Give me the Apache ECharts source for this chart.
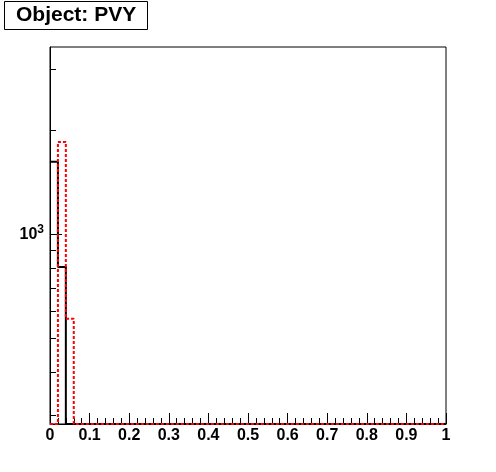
<!DOCTYPE html>
<html>
<head>
<meta charset="utf-8">
<script src="https://cdn.jsdelivr.net/npm/echarts@6/dist/echarts.min.js"></script>
<style>html,body{margin:0;padding:0;background:#fff}#c{width:496px;height:472px}</style>
</head>
<body>
<div id="c"></div>
<script>
const titleText = 'Object: PVY';
const binEdges = [0.00,0.02,0.04,0.06,0.08,0.10,0.12,0.14,0.16,0.18,0.20,0.22,0.24,0.26,0.28,0.30,0.32,0.34,0.36,0.38,0.40,0.42,0.44,0.46,0.48,0.50,0.52,0.54,0.56,0.58,0.60,0.62,0.64,0.66,0.68,0.70,0.72,0.74,0.76,0.78,0.80,0.82,0.84,0.86,0.88,0.90,0.92,0.94,0.96,0.98,1.00];
const blackCounts = [1620,805,0,0,0,0,0,0,0,0,0,0,0,0,0,0,0,0,0,0,0,0,0,0,0,0,0,0,0,0,0,0,0,0,0,0,0,0,0,0,0,0,0,0,0,0,0,0,0,0];
const redCounts = [0,1850,570,0,0,0,0,0,0,0,0,0,0,0,0,0,0,0,0,0,0,0,0,0,0,0,0,0,0,0,0,0,0,0,0,0,0,0,0,0,0,0,0,0,0,0,0,0,0,0];
const yMin = 283, yMax = 3480;
const yMinorTicks = [300,400,500,600,700,800,900,2000,3000];
const yMajorTicks = [1000];

const FONT = 'Liberation Sans';
function stepData(counts){
  const d = [];
  for (let i = 0; i < counts.length; i++) d.push([binEdges[i], Math.max(counts[i], yMin)]);
  d.push([binEdges[counts.length], Math.max(counts[counts.length-1], yMin)]);
  return d;
}
const chart = echarts.init(document.getElementById('c'), null, {renderer:'canvas'});
chart.setOption({
  animation:false,
  backgroundColor:'#fff',
  title:{
    text:titleText, left:4, top:2,
    padding:[3,12,4,12],
    borderColor:'#000', borderWidth:1, backgroundColor:'#fff',
    textStyle:{fontFamily:FONT, fontWeight:'bold', fontSize:21, lineHeight:20, color:'#000'}
  },
  grid:{left:50, right:50, top:47, bottom:48, show:true, borderColor:'#000', borderWidth:1},
  xAxis:{
    type:'value', min:0, max:1, interval:0.1,
    axisLine:{show:true, onZero:false, lineStyle:{color:'#000', width:1}},
    axisTick:{show:true, inside:true, length:11, lineStyle:{color:'#000', width:1}},
    minorTick:{show:true, splitNumber:5, length:6, lineStyle:{color:'#000', width:1}},
    axisLabel:{fontFamily:FONT, fontWeight:'bold', fontSize:16, color:'#000', margin:4},
    splitLine:{show:false}
  },
  yAxis:[{
    type:'log', logBase:10, min:yMin, max:yMax, position:'left',
    axisLine:{show:true, lineStyle:{color:'#000', width:1}},
    axisTick:{show:true, inside:true, length:12, customValues:yMajorTicks, lineStyle:{color:'#000', width:1}},
    axisLabel:{show:true, customValues:yMajorTicks, margin:6,
      formatter:function(v){ return '{b|10}{s|' + Math.round(Math.log10(v)) + '}'; },
      rich:{
        b:{fontFamily:FONT, fontWeight:'bold', fontSize:16, color:'#000'},
        s:{fontFamily:FONT, fontWeight:'bold', fontSize:12, color:'#000', padding:[0,0,9,0]}
      }
    },
    splitLine:{show:false}
  },{
    type:'log', logBase:10, min:yMin, max:yMax, position:'left', offset:0,
    axisLine:{show:false},
    axisTick:{show:true, inside:true, length:6, customValues:yMinorTicks, lineStyle:{color:'#000', width:1}},
    axisLabel:{show:false},
    splitLine:{show:false}
  }],
  series:[{
    type:'line', name:'black', step:'end', yAxisIndex:0, symbol:'none', clip:false,
    data:stepData(blackCounts),
    lineStyle:{color:'#000', width:2}
  },{
    type:'line', name:'red', step:'end', yAxisIndex:0, symbol:'none', clip:false,
    data:stepData(redCounts),
    lineStyle:{color:'#ff0000', width:2, type:[3,2]}
  }]
});
</script>
</body>
</html>
